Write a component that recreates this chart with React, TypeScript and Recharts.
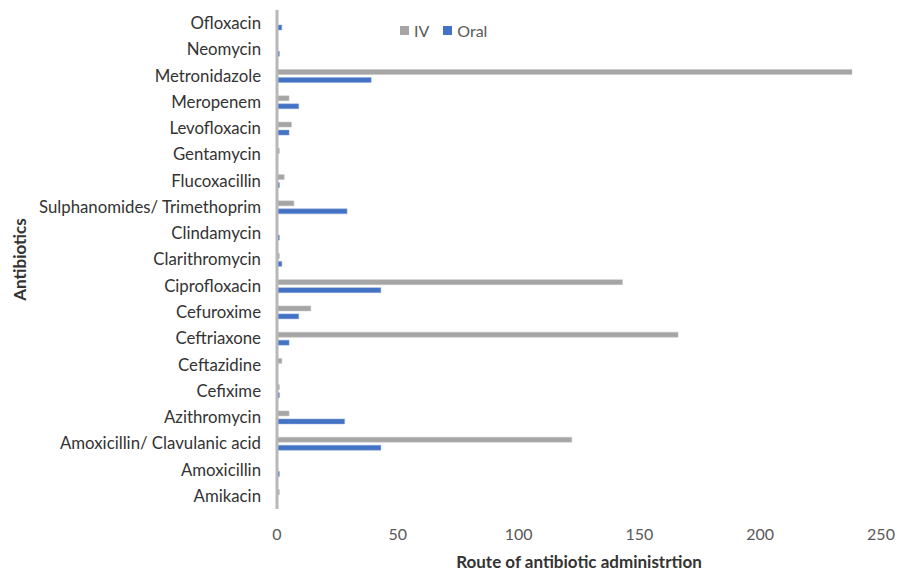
import React from "react";
import { BarChart, Bar, XAxis, YAxis, Legend, Label } from "recharts";

const categories: string[] = [
  "Ofloxacin",
  "Neomycin",
  "Metronidazole",
  "Meropenem",
  "Levofloxacin",
  "Gentamycin",
  "Flucoxacillin",
  "Sulphanomides/ Trimethoprim",
  "Clindamycin",
  "Clarithromycin",
  "Ciprofloxacin",
  "Cefuroxime",
  "Ceftriaxone",
  "Ceftazidine",
  "Cefixime",
  "Azithromycin",
  "Amoxicillin/ Clavulanic acid",
  "Amoxicillin",
  "Amikacin",
];

const ivValues: number[] = [0, 0, 238, 5, 6, 1, 3, 7, 0, 1, 143, 14, 166, 2, 1, 5, 122, 0, 1];
const oralValues: number[] = [2, 1, 39, 9, 5, 0, 1, 29, 1, 2, 43, 9, 5, 0, 1, 28, 43, 1, 0];

const xTicks: number[] = [0, 50, 100, 150, 200, 250];

const data = categories.map((name, i) => ({ name, IV: ivValues[i], Oral: oralValues[i] }));

const FONT = "Lato, 'Open Sans', sans-serif";

const renderLegend = (props: any) => {
  const { payload } = props;
  return (
    <div style={{ display: "flex", alignItems: "center", fontFamily: FONT, fontSize: 16, color: "#595959" }}>
      {(payload || []).map((p: any) => (
        <div key={p.value} style={{ display: "flex", alignItems: "center", marginRight: 14 }}>
          <div style={{ width: 9, height: 9, background: p.color, marginRight: 5 }} />
          <span>{p.value}</span>
        </div>
      ))}
    </div>
  );
};

const YTitle = (props: any) => {
  const { viewBox } = props;
  const cy = viewBox.y + viewBox.height / 2;
  const cx = 11;
  return (
    <text
      x={cx}
      y={cy}
      transform={`rotate(-90, ${cx}, ${cy})`}
      textAnchor="middle"
      dominantBaseline="central"
      fontFamily={FONT}
      fontSize={17}
      fontWeight="bold"
      fill="#333333"
    >
      Antibiotics
    </text>
  );
};

export default function App() {
  return (
    <div style={{ position: "relative", width: 900, height: 563 }}>
      <BarChart
        width={900}
        height={563}
        data={data}
        layout="vertical"
        margin={{ top: 2, right: 27, left: 0, bottom: 0 }}
        barSize={5}
        barGap={3}
      >
        <XAxis
          type="number"
          domain={[0, 250]}
          ticks={xTicks}
          axisLine={false}
          tickLine={false}
          height={62}
          tickMargin={14}
          tick={{ fill: "#595959", fontSize: 16, fontFamily: FONT }}
        >
          <Label
            value="Route of antibiotic administrtion"
            position="insideBottom"
            offset={3}
            style={{ fontFamily: FONT, fontSize: 17, fontWeight: "bold", fill: "#333333" }}
          />
        </XAxis>
        <YAxis
          type="category"
          dataKey="name"
          width={269}
          axisLine={{ stroke: "#b8b8b8", strokeWidth: 3 }}
          tickLine={false}
          tickMargin={10}
          interval={0}
          tick={{ fill: "#333333", fontSize: 16.8, fontFamily: FONT }}
        >
          <Label content={<YTitle />} />
        </YAxis>
        <Legend
          content={renderLegend}
          wrapperStyle={{ position: "absolute", left: 392, top: 13, width: "auto", height: 0, overflow: "visible" }}
        />
        <Bar dataKey="IV" fill="#a5a5a5" stroke="#c4c4c4" strokeWidth={0.5} isAnimationActive={false} />
        <Bar dataKey="Oral" fill="#4472c4" stroke="#8faadc" strokeWidth={0.5} isAnimationActive={false} />
      </BarChart>
    </div>
  );
}
